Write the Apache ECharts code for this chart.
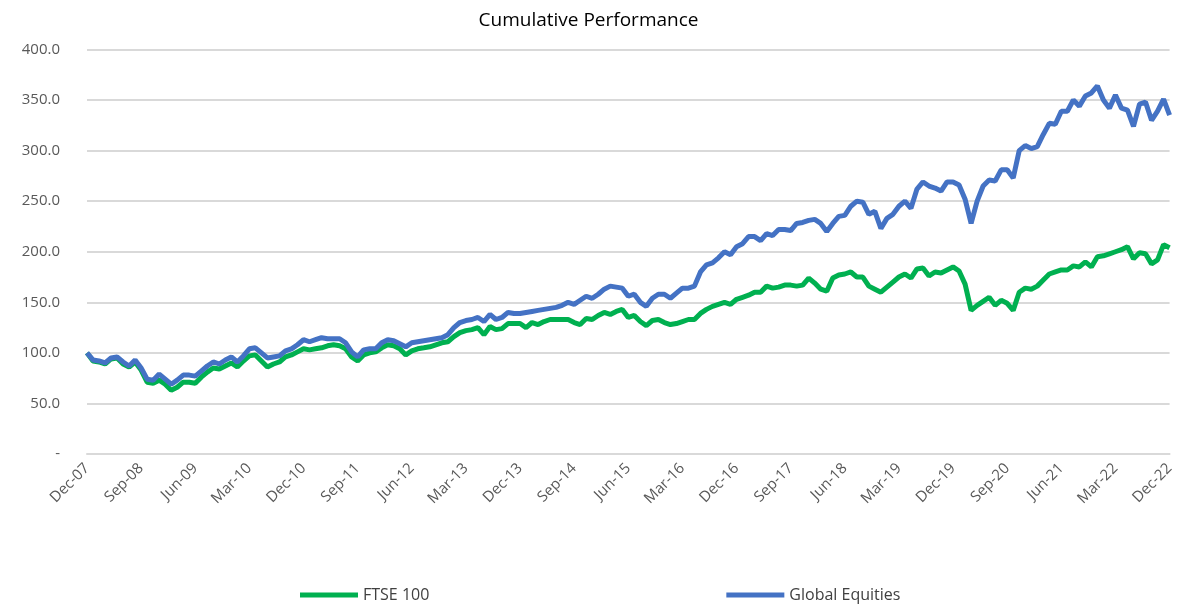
<!DOCTYPE html>
<html>
<head>
<meta charset="utf-8">
<script src="https://cdn.jsdelivr.net/npm/echarts@6/dist/echarts.min.js"></script>
<style>
  html, body { margin: 0; padding: 0; background: #fff; }
  #chart { width: 1177px; height: 605px; }
</style>
</head>
<body>
<div id="chart"></div>
<script>
// Monthly, Dec-07 .. Dec-22 (181 points)
const MONTHS = ['Jan', 'Feb', 'Mar', 'Apr', 'May', 'Jun', 'Jul', 'Aug', 'Sep', 'Oct', 'Nov', 'Dec']
const categories = []
for (let i = 0; i <= 180; i++) {
  const m = (11 + i) % 12
  const y = 7 + Math.floor((11 + i) / 12)
  categories.push(MONTHS[m] + '-' + String(y).padStart(2, '0'))
}

const ftse100 = [
  100, 92, 91, 89, 94, 95, 89, 86, 91, 83, 71, 70, 73, 69, 63, 66, 71, 71, 70, 76,
  81, 85, 84, 87, 90, 86, 92, 97, 98, 92, 86, 89, 91, 96, 98, 101, 104, 103, 104, 105,
  107, 108, 107, 104, 96, 92, 98, 100, 101, 105, 108, 107, 104, 98, 102, 104, 105, 106, 108, 110,
  111, 116, 120, 122, 123, 125, 118, 126, 123, 124, 129, 129, 129, 125, 130, 128, 131, 133, 133, 133,
  133, 130, 128, 134, 133, 137, 140, 138, 141, 143, 135, 137, 131, 127, 132, 133, 130, 128, 129, 131,
  133, 133, 139, 143, 146, 148, 150, 148, 153, 155, 157, 160, 160, 166, 164, 165, 167, 167, 166, 167,
  174, 169, 163, 161, 174, 177, 178, 180, 175, 175, 166, 163, 160, 165, 170, 175, 178, 174, 183, 184,
  176, 180, 179, 182, 185, 181, 168, 142, 147, 151, 155, 147, 152, 149, 142, 160, 164, 163, 166, 172,
  178, 180, 182, 182, 186, 185, 190, 185, 195, 196, 198, 200, 202, 205, 193, 199, 198, 188, 192, 207,
  204
]

const globalEquities = [
  100, 93, 92, 90, 95, 96, 91, 87, 93, 85, 74, 73, 79, 74, 69, 73, 78, 78, 77, 82,
  87, 91, 89, 93, 96, 91, 97, 104, 105, 100, 95, 96, 97, 102, 104, 108, 113, 111, 113, 115,
  114, 114, 114, 110, 101, 96, 103, 104, 104, 110, 113, 112, 109, 106, 110, 111, 112, 113, 114, 115,
  118, 125, 130, 132, 133, 135, 131, 138, 133, 135, 140, 139, 139, 140, 141, 142, 143, 144, 145, 147,
  150, 148, 152, 156, 154, 158, 163, 166, 165, 164, 156, 158, 150, 146, 154, 158, 158, 154, 159, 164,
  164, 166, 180, 187, 189, 194, 200, 197, 205, 208, 215, 215, 211, 218, 216, 222, 222, 221, 228, 229,
  231, 232, 228, 220, 228, 235, 236, 245, 250, 249, 237, 240, 223, 233, 237, 245, 250, 243, 262, 269,
  265, 263, 260, 269, 269, 266, 252, 228, 250, 265, 271, 270, 281, 281, 273, 300, 305, 302, 304, 316,
  327, 326, 339, 339, 350, 344, 354, 357, 364, 350, 342, 355, 342, 340, 324, 346, 348, 330, 339, 351,
  335
]

const yTicks = [0, 50, 100, 150, 200, 250, 300, 350, 400]

const FONT = '"Open Sans", "Noto Sans", sans-serif'
const GREEN = '#00B050'
const BLUE = '#4472C4'

const chart = echarts.init(document.getElementById('chart'))

chart.setOption({
  backgroundColor: '#fff',
  animation: false,
  title: {
    text: 'Cumulative Performance',
    left: 'center',
    top: 6,
    textStyle: { fontFamily: FONT, fontSize: 19, fontWeight: 'normal', color: '#000' },
  },
  grid: { left: 87, right: 7, top: 49.5, bottom: 151, containLabel: false },
  legend: {
    bottom: -3,
    left: 295,
    itemGap: 297,
    itemWidth: 58,
    itemHeight: 5,
    icon: 'rect',
    textStyle: { fontFamily: FONT, fontSize: 16, color: '#404040' },
    data: ['FTSE 100', 'Global Equities'],
  },
  xAxis: {
    type: 'category',
    data: categories,
    boundaryGap: false,
    axisLine: { show: true, lineStyle: { color: '#d9d9d9', width: 2 } },
    axisTick: { show: false },
    axisLabel: {
      interval: 8,
      rotate: 45,
      margin: 12,
      fontFamily: FONT,
      fontSize: 15,
      color: '#595959',
    },
    splitLine: { show: false },
  },
  yAxis: {
    type: 'value',
    min: yTicks[0],
    max: yTicks[yTicks.length - 1],
    interval: 50,
    axisLine: { show: false },
    axisTick: { show: false },
    axisLabel: {
      margin: 27,
      fontFamily: FONT,
      fontSize: 15,
      color: '#595959',
      formatter: v => (v === 0 ? '-' : v.toFixed(1)),
    },
    splitLine: { lineStyle: { color: '#d9d9d9', width: 2 } },
  },
  series: [
    {
      name: 'FTSE 100',
      type: 'line',
      data: ftse100,
      showSymbol: false,
      symbol: 'none',
      lineStyle: { color: GREEN, width: 5 },
      itemStyle: { color: GREEN },
      z: 2,
    },
    {
      name: 'Global Equities',
      type: 'line',
      data: globalEquities,
      showSymbol: false,
      symbol: 'none',
      lineStyle: { color: BLUE, width: 5 },
      itemStyle: { color: BLUE },
      z: 3,
    },
  ],
})
</script>
</body>
</html>
